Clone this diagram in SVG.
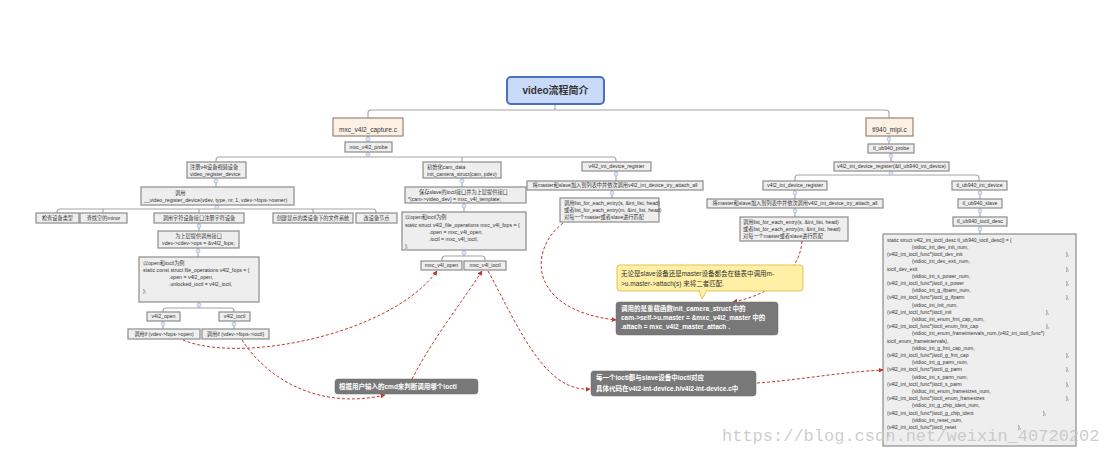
<svg xmlns="http://www.w3.org/2000/svg" width="1104" height="454" viewBox="0 0 1104 454">
<defs>
<marker id="ra" viewBox="0 0 8 8" refX="7" refY="4" markerWidth="5" markerHeight="5" orient="auto" markerUnits="userSpaceOnUse">
<path d="M0,0 L8,4 L0,8 z" fill="#c0392b"/>
</marker>
<style>
text{font-family:"Liberation Sans","Noto Sans CJK SC",sans-serif;fill:#333}
.n rect{fill:#eeeeee;stroke:#8c8c8c;stroke-width:1.2}
.n text{font-size:5.2px}
.c{text-anchor:middle}
.b rect{fill:#fdf1e6;stroke:#9c8272;stroke-width:1.2}
.b text{font-size:6.5px;text-anchor:middle}
.tree path{fill:none;stroke:#a3a3a3;stroke-width:1.1}
.tree circle{fill:#dde5f7;stroke:#9db0dd;stroke-width:0.6}
.red path{fill:none;stroke:#c0392b;stroke-width:1;stroke-dasharray:3 2;marker-end:url(#ra)}
.gc rect{fill:#787878;stroke:#6a6a6a;stroke-width:0.5}
.gc text{fill:#ffffff;font-size:6.5px;font-weight:bold}
.big text{font-size:5px}
</style>
</defs>
<rect width="1104" height="454" fill="#ffffff"/>

<g id="connectors" class="tree">
<path d="M555,104 V110 M368,118 V113 Q368,110 371,110 H886 Q889,110 889,113 V118" stroke-width="1.6"/>
<path d="M368,136 V142"/>
<path d="M368,152 V157 M216,162 V160 Q216,157 219,157 H613 Q616,157 616,160 V162 M462,157 V162"/>
<path d="M216,178 V187"/>
<path d="M217,205 V209 M57,213 V212 Q57,209 60,209 H373 Q376,209 376,212 V213 M103,209 V213 M199,209 V213 M313,209 V213"/>
<path d="M199,223 V231"/>
<path d="M198,248 V257"/>
<path d="M199,302 V308 M163,312 V311 Q163,308 166,308 H231 Q234,308 234,311 V312"/>
<path d="M163,321 V329 M234,321 V329"/>
<path d="M462,178 V187"/>
<path d="M464,203 V212"/>
<path d="M464,250 V256 M442,261 V259 Q442,256 445,256 H482 Q485,256 485,259 V261"/>
<path d="M616,171 V181"/>
<path d="M612,190 V198"/>
<path d="M889,136 V144"/>
<path d="M891,153 V162"/>
<path d="M891,171 V175 M795,181 V178 Q795,175 798,175 H976 Q979,175 979,178 V181"/>
<path d="M795,190 V199"/>
<path d="M795,208 V217"/>
<path d="M980,190 V199"/>
<path d="M980,208 V217"/>
<path d="M980,226 V234"/>
<circle cx="368" cy="139" r="2"/>
<circle cx="368" cy="154.5" r="2"/>
<circle cx="216" cy="181" r="2"/>
<circle cx="217" cy="207" r="2"/>
<circle cx="199" cy="226" r="2"/>
<circle cx="198" cy="251" r="2"/>
<circle cx="199" cy="305" r="2"/>
<circle cx="163" cy="324" r="2"/>
<circle cx="234" cy="324" r="2"/>
<circle cx="462" cy="181" r="2"/>
<circle cx="464" cy="206" r="2"/>
<circle cx="464" cy="253" r="2"/>
<circle cx="616" cy="174" r="2"/>
<circle cx="612" cy="193" r="2"/>
<circle cx="889" cy="139" r="2"/>
<circle cx="891" cy="156" r="2"/>
<circle cx="891" cy="173" r="2"/>
<circle cx="795" cy="193" r="2"/>
<circle cx="795" cy="211" r="2"/>
<circle cx="980" cy="193" r="2"/>
<circle cx="980" cy="211" r="2"/>
<circle cx="980" cy="229" r="2"/>
</g>

<g id="title">
<rect x="507" y="77" width="97" height="27" rx="4" fill="#c9daf8" stroke="#4a70c2" stroke-width="2"/>
<text x="555.5" y="94" text-anchor="middle" font-size="10" font-weight="bold">video流程简介</text>
</g>

<g id="mxc_capture" class="b"><rect x="333" y="118" width="70" height="18"/><text x="368" y="131.5">mxc_v4l2_capture.c</text></g>
<g id="tl940_mipi" class="b"><rect x="866" y="118" width="47" height="18"/><text x="889.5" y="131.5">tl940_mipi.c</text></g>

<g id="mxc_probe" class="n"><rect x="345" y="142" width="47" height="10"/><text class="c" x="368.5" y="148.8">mxc_v4l2_probe</text></g>
<g id="reg_vdev" class="n"><rect x="187" y="162" width="59" height="16"/><text x="190" y="168.8">注册v4l设备视频设备</text><text x="190" y="175.6">video_register_device</text></g>
<g id="call_reg" class="n"><rect x="141" y="187" width="153" height="18"/><text x="175" y="194.5">调用</text><text x="144" y="202">__video_register_device(vdev, type, nr, 1, vdev-&gt;fops-&gt;owner)</text></g>
<g id="check_type" class="n"><rect x="36" y="213" width="43" height="10"/><text class="c" x="57.5" y="219.8">检查设备类型</text></g>
<g id="find_minor" class="n"><rect x="80" y="213" width="47" height="10"/><text class="c" x="103.5" y="219.8">查找空的minor</text></g>
<g id="cdev_reg" class="n"><rect x="154" y="213" width="90" height="10"/><text class="c" x="199" y="219.8">调用字符设备接口注册字符设备</text></g>
<g id="class_fs" class="n"><rect x="273" y="213" width="80" height="10"/><text class="c" x="313" y="219.8">创建显示的类设备下的文件系统</text></g>
<g id="dev_node" class="n"><rect x="356" y="213" width="41" height="10"/><text class="c" x="376.5" y="219.8">改设备节点</text></g>
<g id="upper_if" class="n"><rect x="158" y="231" width="81" height="17"/><text class="c" x="198.5" y="238">为上层提供调用接口</text><text class="c" x="198.5" y="245">vdev-&gt;cdev-&gt;ops = &amp;v4l2_fops;</text></g>
<g id="v4l2_fops" class="n"><rect x="139" y="257" width="120" height="45"/>
<text x="143" y="265">以open和ioctl为例</text>
<text x="143" y="272">static const struct file_operations v4l2_fops = {</text>
<text x="169" y="279">.open = v4l2_open,</text>
<text x="169" y="286">.unlocked_ioctl = v4l2_ioctl,</text>
<text x="143" y="293">};</text></g>
<g id="v4l2_open" class="n"><rect x="147" y="312" width="33" height="9"/><text class="c" x="163.5" y="318.4">v4l2_open</text></g>
<g id="v4l2_ioctl" class="n"><rect x="219" y="312" width="31" height="9"/><text class="c" x="234.5" y="318.4">v4l2_ioctl</text></g>
<g id="call_open" class="n"><rect x="128" y="329" width="72" height="10"/><text class="c" x="164" y="335.8">调用if (vdev-&gt;fops-&gt;open)</text></g>
<g id="call_ioctl" class="n"><rect x="202" y="329" width="67" height="10"/><text class="c" x="235.5" y="335.8">调用if (vdev-&gt;fops-&gt;ioctl)</text></g>

<g id="init_cam" class="n"><rect x="423" y="162" width="78" height="16"/><text x="427" y="168.8">初始化cam_data</text><text x="427" y="175.6">init_camera_struct(cam, pdev)</text></g>
<g id="save_slave" class="n"><rect x="405" y="187" width="121" height="16"/><text x="419" y="193.8">保存slave的ioctl接口并为上层提供接口</text><text x="408" y="200.6">*(cam-&gt;video_dev) = mxc_v4l_template;</text></g>
<g id="mxc_fops" class="n"><rect x="402" y="212" width="124" height="38"/>
<text x="405" y="219">以open和ioctl为例</text>
<text x="405" y="226.5">static struct v4l2_file_operations mxc_v4l_fops = {</text>
<text x="429" y="233.5">.open = mxc_v4l_open,</text>
<text x="429" y="240.5">.ioctl = mxc_v4l_ioctl,</text>
<text x="405" y="247.5">};</text></g>
<g id="mxc_open" class="n"><rect x="421" y="261" width="41" height="9"/><text class="c" x="441.5" y="267.4">mxc_v4l_open</text></g>
<g id="mxc_ioctl" class="n"><rect x="464" y="261" width="42" height="9"/><text class="c" x="485" y="267.4">mxc_v4l_ioctl</text></g>
<g id="int_reg1" class="n"><rect x="582" y="162" width="69" height="9"/><text class="c" x="616.5" y="168.4">v4l2_int_device_register</text></g>
<g id="attach1" class="n"><rect x="527" y="181" width="176" height="9"/><text class="c" x="615" y="187.4">将master和slave加入到列表中并依次调用v4l2_int_device_try_attach_all</text></g>
<g id="list1" class="n"><rect x="560" y="198" width="99" height="24"/>
<text x="564" y="205">调用list_for_each_entry(s, &amp;int_list, head)</text>
<text x="564" y="212">或者list_for_each_entry(m, &amp;int_list, head)</text>
<text x="564" y="219">对每一个master或者slave进行匹配</text></g>

<g id="tl_probe" class="n"><rect x="868" y="144" width="46" height="9"/><text class="c" x="891" y="150.4">tl_ub940_probe</text></g>
<g id="int_reg2" class="n"><rect x="834" y="162" width="115" height="9"/><text class="c" x="891.5" y="168.4">v4l2_int_device_register(&amp;tl_ub940_int_device)</text></g>
<g id="int_reg3" class="n"><rect x="763" y="181" width="64" height="9"/><text class="c" x="795" y="187.4">v4l2_int_device_register</text></g>
<g id="attach2" class="n"><rect x="707" y="199" width="176" height="9"/><text class="c" x="795" y="205.4">将master和slave加入到列表中并依次调用v4l2_int_device_try_attach_all</text></g>
<g id="list2" class="n"><rect x="740" y="217" width="108" height="24"/>
<text x="743" y="224">调用list_for_each_entry(s, &amp;int_list, head)</text>
<text x="743" y="231">或者list_for_each_entry(m, &amp;int_list, head)</text>
<text x="743" y="238">对每一个master或者slave进行匹配</text></g>
<g id="tl_int_dev" class="n"><rect x="952" y="181" width="55" height="9"/><text class="c" x="979.5" y="187.4">tl_ub940_int_device</text></g>
<g id="tl_slave" class="n"><rect x="958" y="199" width="44" height="9"/><text class="c" x="980" y="205.4">tl_ub940_slave</text></g>
<g id="tl_desc" class="n"><rect x="953" y="217" width="54" height="9"/><text class="c" x="980" y="223.4">tl_ub940_ioctl_desc</text></g>

<g id="ioctl_desc_table" class="n big"><rect x="883" y="234" width="193" height="212"/>
<text x="887" y="241.7">static struct v4l2_int_ioctl_desc tl_ub940_ioctl_desc[] = {</text>
<text x="912" y="248.9">{vidioc_int_dev_init_num,</text>
<text x="887" y="256.1">(v4l2_int_ioctl_func*)ioctl_dev_init</text><text x="1066" y="256.1">},</text>
<text x="912" y="263.3">{vidioc_int_dev_exit_num,</text>
<text x="887" y="270.5">ioctl_dev_exit</text><text x="1066" y="270.5">},</text>
<text x="912" y="277.7">{vidioc_int_s_power_num,</text>
<text x="887" y="284.9">(v4l2_int_ioctl_func*)ioctl_s_power</text><text x="1066" y="284.9">},</text>
<text x="912" y="292.1">{vidioc_int_g_ifparm_num,</text>
<text x="887" y="299.3">(v4l2_int_ioctl_func*)ioctl_g_ifparm</text><text x="1066" y="299.3">},</text>
<text x="912" y="306.5">{vidioc_int_init_num,</text>
<text x="887" y="313.7">(v4l2_int_ioctl_func*)ioctl_init</text><text x="1046" y="313.7">},</text>
<text x="912" y="320.9">{vidioc_int_enum_fmt_cap_num,</text>
<text x="887" y="328.1">(v4l2_int_ioctl_func*)ioctl_enum_fmt_cap</text><text x="1046" y="328.1">},</text>
<text x="912" y="335.3">{vidioc_int_enum_frameintervals_num,(v4l2_int_ioctl_func*)</text>
<text x="887" y="342.5">ioctl_enum_frameintervals},</text>
<text x="912" y="349.7">{vidioc_int_g_fmt_cap_num,</text>
<text x="887" y="356.9">(v4l2_int_ioctl_func*)ioctl_g_fmt_cap</text><text x="1066" y="356.9">},</text>
<text x="912" y="364.1">{vidioc_int_g_parm_num,</text>
<text x="887" y="371.3">(v4l2_int_ioctl_func*)ioctl_g_parm</text><text x="1066" y="371.3">},</text>
<text x="912" y="378.5">{vidioc_int_s_parm_num,</text>
<text x="887" y="385.7">(v4l2_int_ioctl_func*)ioctl_s_parm</text><text x="1066" y="385.7">},</text>
<text x="912" y="392.9">{vidioc_int_enum_framesizes_num,</text>
<text x="887" y="400.1">(v4l2_int_ioctl_func*)ioctl_enum_framesizes</text><text x="1066" y="400.1">},</text>
<text x="912" y="407.3">{vidioc_int_g_chip_ident_num,</text>
<text x="887" y="414.5">(v4l2_int_ioctl_func*)ioctl_g_chip_ident</text><text x="1043" y="414.5">},</text>
<text x="912" y="421.7">{vidioc_int_reset_num,</text>
<text x="887" y="428.9">(v4l2_int_ioctl_func*)ioctl_reset</text><text x="1018" y="428.9">},</text>
<text x="887" y="436.1">};</text></g>

<g id="relations" class="red">
<path d="M183,340 C 240,364 390,335 437,271"/>
<path d="M242,340 C 268,380 320,410 385,395"/>
<path d="M412,379 C 432,340 462,302 482,271"/>
<path d="M488,271 C 520,330 545,392 590,389"/>
<path d="M563,223 C 528,250 528,310 616,320"/>
<path d="M802,241 C 800,272 770,295 733,302"/>
<path d="M757,383 C 800,380 840,372 883,370"/>
</g>

<g id="note_attach">
<rect x="617" y="265" width="186" height="26" rx="3" fill="#fff0a6" stroke="#e3c158" stroke-width="1"/>
<path d="M699,290.5 L707,290.5 L702,299 z" fill="#fff0a6" stroke="#e3c158" stroke-width="1" stroke-linejoin="round"/>
<path d="M699.5,290.5 H706.5" stroke="#fff0a6" stroke-width="1.2"/>
<text x="621" y="275.5" font-size="6.5">无论是slave设备还是master设备都会在链表中调用m-</text>
<text x="621" y="285.5" font-size="6.5">&gt;u.master-&gt;attach(s) 来将二者匹配.</text>
</g>
<g id="note_init" class="gc">
<rect x="616" y="302" width="162" height="33" rx="3"/>
<text x="621" y="310.5">调用的是重载函数init_camera_struct 中的</text>
<text x="621" y="319.5">cam-&gt;self-&gt;u.master = &amp;mxc_v4l2_master 中的</text>
<text x="621" y="329">.attach = mxc_v4l2_master_attach .</text>
</g>
<g id="note_cmd" class="gc">
<rect x="335" y="379" width="143" height="15" rx="3"/>
<text x="339" y="389">根据用户输入的cmd来判断调用哪个ioctl</text>
</g>
<g id="note_ioctl" class="gc">
<rect x="591" y="371" width="165" height="25" rx="3"/>
<text x="596" y="380">每一个ioctl都与slave设备中ioctl对应</text>
<text x="596" y="391">具体代码在v4l2-int-device.h/v4l2-int-device.c中</text>
</g>

<text x="722" y="441" font-family="'Liberation Mono',monospace" font-size="17" fill="#c4c4c4" fill-opacity="0.85" style="font-family:'Liberation Mono',monospace;fill:#c4c4c4">https://blog.csdn.net/weixin_40720202</text>
</svg>
